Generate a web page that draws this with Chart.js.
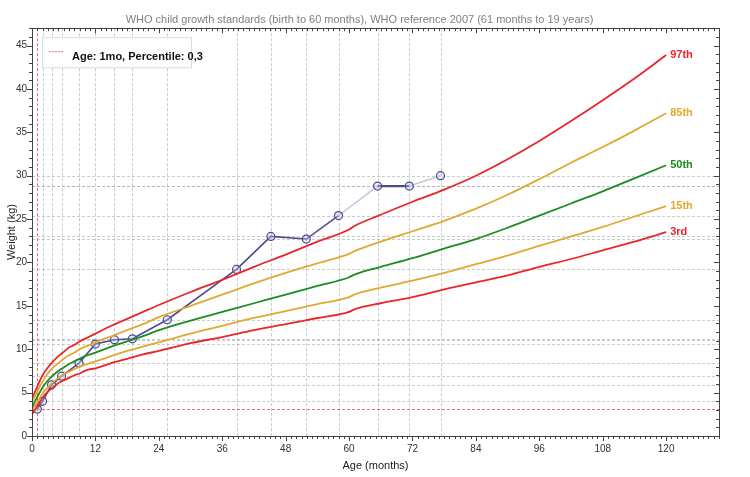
<!DOCTYPE html>
<html>
<head>
<meta charset="utf-8">
<title>Weight-for-age</title>
<script src="https://cdn.jsdelivr.net/npm/chart.js@4"></script>
<style>
  html, body { margin: 0; padding: 0; background: #fff; }
  canvas { display: block; }
</style>
</head>
<body>
<canvas id="growthChart" width="750" height="477"></canvas>
<script>
// Reference curves (months -> kg)
const ages = [0, 1, 2, 3, 4, 5, 6, 7, 8, 9, 10, 11, 12, 15, 18, 21, 24, 30, 36, 42, 48, 54, 60,
  61, 66, 72, 78, 84, 90, 96, 102, 108, 114, 120];
const p3 = [2.5, 3.4, 4.4, 5.1, 5.6, 6.1, 6.4, 6.7, 7.0, 7.2, 7.5, 7.7, 7.8, 8.4, 8.9, 9.4, 9.8, 10.7, 11.4, 12.2, 12.9, 13.6, 14.3,
  14.6, 15.3, 16.0, 16.9, 17.7, 18.5, 19.5, 20.4, 21.4, 22.4, 23.5];
const p15 = [2.9, 3.9, 4.9, 5.6, 6.2, 6.7, 7.1, 7.4, 7.7, 8.0, 8.2, 8.4, 8.6, 9.2, 9.8, 10.3, 10.8, 11.8, 12.7, 13.6, 14.4, 15.2, 16.0,
  16.3, 17.1, 17.9, 18.8, 19.8, 20.8, 21.9, 23.0, 24.1, 25.3, 26.5];
const p50 = [3.3, 4.5, 5.6, 6.4, 7.0, 7.5, 7.9, 8.3, 8.6, 8.9, 9.2, 9.4, 9.6, 10.3, 10.9, 11.5, 12.2, 13.3, 14.3, 15.3, 16.3, 17.3, 18.3,
  18.6, 19.5, 20.5, 21.6, 22.7, 24.0, 25.4, 26.8, 28.2, 29.7, 31.2];
const p85 = [3.9, 5.1, 6.3, 7.2, 7.9, 8.4, 8.9, 9.3, 9.6, 10.0, 10.3, 10.5, 10.8, 11.5, 12.2, 12.9, 13.7, 15.0, 16.3, 17.6, 18.8, 19.9, 21.0,
  21.3, 22.4, 23.6, 24.8, 26.2, 27.8, 29.6, 31.5, 33.3, 35.2, 37.2];
const p97 = [4.3, 5.7, 7.0, 7.9, 8.6, 9.2, 9.7, 10.2, 10.5, 10.9, 11.2, 11.5, 11.8, 12.7, 13.5, 14.3, 15.1, 16.6, 18.0, 19.5, 20.9, 22.4, 23.8,
  24.2, 25.5, 27.0, 28.4, 30.0, 31.9, 34.0, 36.3, 38.7, 41.2, 43.9];
const percentileNames = ['3rd', '15th', '50th', '85th', '97th'];

// Patient measurements
const visitAges = [1, 2, 3.7, 5.6, 8.9, 12, 15.6, 19, 25.6, 38.7, 45.2, 51.9, 58, 65.4, 71.4, 77.3];
const visitWeights = [3.1, 4.0, 5.9, 6.9, 8.4, 10.6, 11.1, 11.2, 13.4, 19.2, 23.0, 22.7, 25.4, 28.8, 28.8, 30.0];
const gapSegments = [12, 14]; // intervalos desenhados em cinza claro

// Ponto selecionado (legenda)
const selectedAge = 1;
const selectedWeight = 3.1;
const selectedText = 'Age: 1mo, Percentile: 0,3';

const RED = '#e8262b';
const GOLD = '#e0a930';
const GREEN = '#1f8b24';
const NAVY = '#4b4b8e';
const CROSS = '#f26a6a';

Chart.defaults.font.family = "'Liberation Sans', Arial, sans-serif";

function curve(values) {
    return ages.map((a, i) => ({ x: a, y: values[i] }));
}

const curveSets = [p3, p15, p50, p85, p97];
const curveColors = [RED, GOLD, GREEN, GOLD, RED];

const datasets = curveSets.map((vals, i) => ({
    label: percentileNames[i],
    data: curve(vals),
    borderColor: curveColors[i],
    borderWidth: 1.8,
    pointRadius: 0,
    cubicInterpolationMode: 'monotone',
    fill: false
}));

datasets.push({
    label: 'Patient',
    data: visitAges.map((a, i) => ({ x: a, y: visitWeights[i] })),
    borderColor: NAVY,
    borderWidth: 1.6,
    pointRadius: 4,
    pointBorderWidth: 1.2,
    pointBorderColor: NAVY,
    pointBackgroundColor: 'rgba(200,200,235,0.35)',
    tension: 0,
    segment: {
        borderColor: ctx => gapSegments.includes(ctx.p0DataIndex) ? '#c8c8da' : undefined,
        borderWidth: ctx => ctx.p0DataIndex === 13 ? 2.2 : undefined
    }
});

function line(ctx, x1, y1, x2, y2) {
    ctx.beginPath();
    ctx.moveTo(x1, y1);
    ctx.lineTo(x2, y2);
    ctx.stroke();
}

// Grades tracejadas, moldura, marcas e rótulos
const growthDecor = {
    id: 'growthDecor',
    beforeDatasetsDraw(chart) {
        const { ctx, chartArea: a, scales: { x, y } } = chart;
        ctx.save();
        ctx.lineWidth = 1;
        ctx.setLineDash([3, 2]);
        ctx.strokeStyle = 'rgba(160,160,160,0.55)';
        visitAges.forEach(v => {
            if (v === selectedAge) return;
            const px = Math.round(x.getPixelForValue(v)) + 0.5;
            line(ctx, px, a.top, px, a.bottom);
        });
        visitWeights.forEach(v => {
            if (v === selectedWeight) return;
            const py = Math.round(y.getPixelForValue(v)) + 0.5;
            line(ctx, a.left, py, a.right, py);
        });
        // mira vermelha do ponto selecionado
        ctx.strokeStyle = CROSS;
        ctx.setLineDash([3, 2]);
        const sx = Math.round(x.getPixelForValue(selectedAge)) + 0.5;
        const sy = Math.round(y.getPixelForValue(selectedWeight)) + 0.5;
        line(ctx, sx, a.top, sx, a.bottom);
        line(ctx, a.left, sy, a.right, sy);
        ctx.restore();
    },
    afterDraw(chart) {
        const { ctx, chartArea: a, scales: { x, y } } = chart;
        ctx.save();
        ctx.strokeStyle = '#444';
        ctx.lineWidth = 1;
        ctx.strokeRect(Math.round(a.left) + 0.5, Math.round(a.top) + 0.5,
            Math.round(a.right - a.left), Math.round(a.bottom - a.top));

        // marcas menores / maiores
        for (let v = 0; v <= x.max; v++) {
            const px = Math.round(x.getPixelForValue(v)) + 0.5;
            const len = v % 12 === 0 ? 5 : 3;
            line(ctx, px, a.bottom, px, a.bottom + len);
            line(ctx, px, a.top, px, a.top + len);
        }
        for (let v = 0; v <= y.max; v++) {
            const py = Math.round(y.getPixelForValue(v)) + 0.5;
            const len = v % 5 === 0 ? 5 : 3;
            line(ctx, a.left - len, py, a.left, py);
            line(ctx, a.right - len, py, a.right, py);
        }

        // rótulos dos percentis
        ctx.font = "bold 11px 'Liberation Sans', Arial, sans-serif";
        ctx.textBaseline = 'middle';
        ctx.textAlign = 'left';
        for (let i = 0; i < curveSets.length; i++) {
            const pts = chart.getDatasetMeta(i).data;
            const last = pts[pts.length - 1];
            ctx.fillStyle = curveColors[i];
            ctx.fillText(percentileNames[i], last.x + 4, last.y);
        }

        // legenda
        const lx = a.left + 10, ly = a.top + 9;
        ctx.fillStyle = 'rgba(255,255,255,0.9)';
        ctx.fillRect(lx, ly, 149, 30);
        ctx.strokeStyle = '#dcdcdc';
        ctx.strokeRect(lx + 0.5, ly + 0.5, 149, 30);
        ctx.strokeStyle = CROSS;
        ctx.setLineDash([2, 1]);
        line(ctx, lx + 7, ly + 14.5, lx + 22, ly + 14.5);
        ctx.setLineDash([]);
        ctx.fillStyle = '#111';
        ctx.fillText(selectedText, lx + 30, ly + 20);
        ctx.restore();
    }
};

const ctx = document.getElementById('growthChart').getContext('2d');
const growthChart = new Chart(ctx, {
    type: 'line',
    data: { datasets: datasets },
    options: {
        responsive: false,
        animation: false,
        devicePixelRatio: 1,
        layout: {
            padding: { top: 0, right: 31, bottom: 0, left: 0 }
        },
        plugins: {
            legend: { display: false },
            tooltip: { enabled: false },
            title: {
                display: true,
                text: 'WHO child growth standards (birth to 60 months), WHO reference 2007 (61 months to 19 years)',
                color: '#808080',
                font: { size: 11, weight: 'normal' },
                padding: { top: 13, bottom: 2 }
            }
        },
        scales: {
            x: {
                type: 'linear',
                min: 0,
                max: 130,
                afterFit: scale => { scale.height = 41; },
                grid: { display: false, drawTicks: false },
                border: { display: false },
                ticks: {
                    stepSize: 12,
                    includeBounds: false,
                    color: '#333',
                    font: { size: 10 },
                    padding: 7,
                    maxRotation: 0
                },
                title: {
                    display: true,
                    text: 'Age (months)',
                    color: '#222',
                    font: { size: 11 },
                    padding: { top: 4, bottom: 4 }
                }
            },
            y: {
                type: 'linear',
                min: 0,
                max: 47,
                afterFit: scale => { scale.width = 32; },
                grid: { display: false, drawTicks: false },
                border: { display: false },
                ticks: {
                    stepSize: 5,
                    includeBounds: false,
                    color: '#333',
                    font: { size: 10 },
                    padding: 5
                },
                title: {
                    display: true,
                    text: 'Weight (kg)',
                    color: '#222',
                    font: { size: 11, lineHeight: 1 },
                    padding: { top: 6, bottom: 0 }
                }
            }
        }
    },
    plugins: [growthDecor]
});
</script>
</body>
</html>
